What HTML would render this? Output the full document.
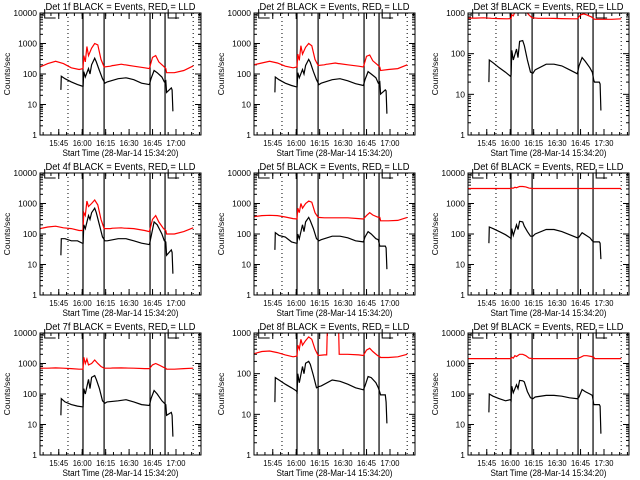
<!DOCTYPE html>
<html><head><meta charset="utf-8">
<style>
html,body{margin:0;padding:0;background:#fff;}
svg{display:block;font-family:"Liberation Sans",sans-serif;}
</style></head>
<body>
<svg id="chart" width="640" height="480" viewBox="0 0 640 480" xmlns="http://www.w3.org/2000/svg"></svg>
<script>
// time axis: minutes after 15:33
const tBlack = [13.4,13.6,16,20,24,27,27.6,28,29,31,32,33,35,36,38,40,41.5,43,50,55,60,65,70,71,73,75,78,79.5,80.5,81,84,84.5,85];
const tRed = [0,5,10,15,20,25,27.5,28,29,30,31,33,35,37,39,41,45,46.5,47,52,54,54.5,60,67,70,72,74,76,79,80.5,81,86,92,98];
const tickMinutes = [12,27,42,57,72,87];
const tickLabelsA = ["15:45","16:00","16:15","16:30","16:45","17:00"];
const tickLabelsB = ["15:45","16:00","16:15","16:30","16:45","17:30"];
const solidLines = [27.5,41,70.4,80];
const dottedLines = [17.9,98];
const detNames = ["1f","2f","3f","4f","5f","6f","7f","8f","9f"];
const topDecades = [4,4,3,4,4,4,4,3,4];
const yTickLabels = ["1","10","100","1000","10000"];

const black1 = [30,85,70,55,45,40,40,120,80,150,100,200,330,250,130,70,50,55,70,75,65,50,45,70,130,110,80,55,60,25,35,30,6];
const black2 = [25,80,65,50,42,38,38,110,75,140,100,190,300,240,120,65,45,50,65,70,60,48,42,65,120,100,75,50,55,22,30,28,5];
const black3 = [20,70,60,45,35,28,30,120,70,130,80,200,210,160,70,35,33,40,55,55,50,40,32,50,80,65,45,35,22,20,20,18,4];
const black4 = [20,70,70,60,60,50,50,200,150,400,300,500,700,500,200,80,60,60,70,70,60,50,45,80,250,200,100,60,55,20,30,25,5];
const black5 = [30,110,90,80,55,50,50,100,70,200,120,250,350,270,150,70,60,65,85,85,75,60,55,80,120,100,70,65,40,40,40,35,7];
const black6 = [50,170,150,120,95,75,70,150,90,200,140,260,250,180,120,85,85,100,140,140,120,95,75,80,110,95,75,60,55,55,55,50,15];
const black7 = [20,70,55,45,40,38,38,150,100,300,150,350,400,300,150,60,50,55,60,65,55,45,42,70,130,100,60,50,45,20,25,20,4];
const black8 = [20,80,70,55,45,38,35,100,60,150,100,180,200,170,90,45,48,50,70,65,55,45,40,50,85,80,60,45,35,30,30,20,6];
const black9 = [25,100,85,70,60,65,60,180,110,200,150,280,270,250,120,75,70,80,90,90,85,75,70,80,140,120,100,90,45,45,45,40,5];

const red1 = [170,220,260,220,160,140,150,400,250,800,400,700,1000,900,300,170,180,190,190,210,200,200,180,160,150,350,400,250,180,150,110,110,130,185];
const red2 = [200,230,260,230,180,160,170,450,280,850,450,750,1000,850,300,190,200,210,210,230,220,220,200,180,170,380,420,270,200,170,130,140,150,200];
const red3 = [750,750,760,740,730,720,730,900,850,1050,1100,1100,1100,1100,900,760,740,740,740,740,735,735,730,720,720,900,950,900,800,720,700,700,700,720];
const red4 = [150,170,180,160,150,130,130,500,400,1200,800,1000,1300,900,300,150,150,155,155,160,155,155,150,130,120,300,400,250,150,130,100,100,120,160];
const red5 = [370,400,410,400,360,320,310,700,500,1000,700,1000,1200,1100,500,350,340,340,340,340,340,340,340,320,310,400,500,420,360,350,270,270,280,350];
const red6 = [3100,3100,3100,3100,3100,3100,3100,3200,3200,3400,3300,3600,3600,3500,3200,3100,3100,3100,3100,3100,3100,3100,3100,3100,3100,3100,3100,3100,3100,3100,3100,3100,3100,3100];
const red7 = [700,700,720,700,680,650,650,1600,1000,1400,900,1000,1300,1000,800,700,700,710,710,720,710,710,700,680,680,900,1000,900,750,700,650,650,680,700];
const red8 = [310,350,360,330,290,260,270,500,400,700,500,650,800,700,400,280,290,290,2000,2000,2000,300,300,290,280,380,420,350,280,260,250,250,260,300];
const red9 = [1450,1450,1450,1450,1450,1450,1450,1600,1500,1800,1700,2000,2000,1800,1500,1450,1450,1450,1450,1450,1450,1450,1450,1450,1450,1600,1800,1800,1700,1600,1450,1450,1450,1450];

const blacks = [black1,black2,black3,black4,black5,black6,black7,black8,black9];
const reds = [red1,red2,red3,red4,red5,red6,red7,red8,red9];

const NS = "http://www.w3.org/2000/svg";
const svg = document.getElementById("chart");
function mk(tag, attrs, parent){
  const e = document.createElementNS(NS, tag);
  for (const k in attrs) e.setAttribute(k, attrs[k]);
  parent.appendChild(e);
  return e;
}
const colLeft = [40,254,468], rowTop = [13,173,333];
const W = 161, H = 122, XMIN = 0, XMAX = 103;

for (let p = 0; p < 9; p++) {
  const L = colLeft[p % 3], T = rowTop[Math.floor(p / 3)];
  const dec = topDecades[p];
  const xs = m => L + (m - XMIN) / (XMAX - XMIN) * W;
  const ys = v => T + H - Math.log10(v) / dec * H;
  const g = mk("g", {}, svg);
  
  

  const cp = mk("clipPath", {id: "cp" + p}, g);
  mk("rect", {x: L, y: T, width: W, height: H}, cp);

  const title = mk("text", {x: L + W / 2, y: T - 3, "text-anchor": "middle", "font-size": "10", textLength: "150", lengthAdjust: "spacingAndGlyphs"}, g);
  title.textContent = "Det " + detNames[p] + " BLACK = Events, RED = LLD";
  
  

  for (let d = 0; d <= dec; d++) {
    const y = ys(Math.pow(10, d));
    mk("line", {x1: L, x2: L + 6, y1: y, y2: y, stroke: "#000"}, g);
    mk("line", {x1: L + W - 6, x2: L + W, y1: y, y2: y, stroke: "#000"}, g);
    const lb = mk("text", {x: L - 3, y: y + 3, "text-anchor": "end", "font-size": "8.5"}, g);
    lb.textContent = yTickLabels[d];
    
    
    if (d < dec) for (let k = 2; k <= 9; k++) {
      const yy = ys(k * Math.pow(10, d));
      mk("line", {x1: L, x2: L + 3, y1: yy, y2: yy, stroke: "#000"}, g);
      mk("line", {x1: L + W - 3, x2: L + W, y1: yy, y2: yy, stroke: "#000"}, g);
    }
  }
  const labs = (p % 3 === 2) ? tickLabelsB : tickLabelsA;
  tickMinutes.forEach((m, i) => {
    const x = xs(m);
    mk("line", {x1: x, x2: x, y1: T + H, y2: T + H - 6, stroke: "#000"}, g);
    mk("line", {x1: x, x2: x, y1: T, y2: T + 6, stroke: "#000"}, g);
    const lb = mk("text", {x: x, y: T + H + 11, "text-anchor": "middle", "font-size": "8.5", textLength: "19", lengthAdjust: "spacingAndGlyphs"}, g);
    lb.textContent = labs[i];
    
    
  });
  for (let m = 2; m < XMAX; m += 5) {
    const x = xs(m);
    mk("line", {x1: x, x2: x, y1: T + H, y2: T + H - 3, stroke: "#000"}, g);
    mk("line", {x1: x, x2: x, y1: T, y2: T + 3, stroke: "#000"}, g);
  }
  const xt = mk("text", {x: L + W / 2, y: T + H + 21, "text-anchor": "middle", "font-size": "9.5", textLength: "116", lengthAdjust: "spacingAndGlyphs"}, g);
  xt.textContent = "Start Time (28-Mar-14 15:34:20)";
  
  
  const yx = L - 30, yy0 = T + H / 2;
  const yt = mk("text", {x: yx, y: yy0, "text-anchor": "middle", "font-size": "8.5", transform: "rotate(-90 " + yx + " " + yy0 + ")"}, g);
  yt.textContent = "Counts/sec";
  
  

  solidLines.forEach(m => {
    const x = xs(m);
    const ln = mk("line", {x1: x, x2: x, y1: T, y2: T + H, stroke: "#000", "stroke-width": "1.2"}, g);
    
    
  });
  dottedLines.forEach(m => {
    const x = xs(m);
    const ln = mk("line", {x1: x, x2: x, y1: T, y2: T + H, stroke: "#000", "stroke-width": "1", "stroke-dasharray": "1,3"}, g);
    
    
  });
  [[3, 10], [82, 89]].forEach(b => {
    mk("polyline", {points: xs(b[0]) + "," + (T - 4) + " " + xs(b[0]) + "," + (T + 5) + " " + xs(b[1]) + "," + (T + 5), fill: "none", stroke: "#000"}, g);
  });

  const rp = tRed.map((t, i) => xs(t).toFixed(1) + "," + ys(reds[p][i]).toFixed(1)).join(" ");
  const red = mk("polyline", {points: rp, fill: "none", stroke: "#f00", "stroke-width": "1.2", "clip-path": "url(#cp" + p + ")"}, g);
  
  
  const bp = tBlack.map((t, i) => xs(t).toFixed(1) + "," + ys(blacks[p][i]).toFixed(1)).join(" ");
  const blk = mk("polyline", {points: bp, fill: "none", stroke: "#000", "stroke-width": "1.2", "clip-path": "url(#cp" + p + ")"}, g);
  
  

  const fr = mk("rect", {x: L, y: T, width: W, height: H, fill: "none", stroke: "#000", "stroke-width": "1"}, g);
  
  
}
</script>
</body></html>
